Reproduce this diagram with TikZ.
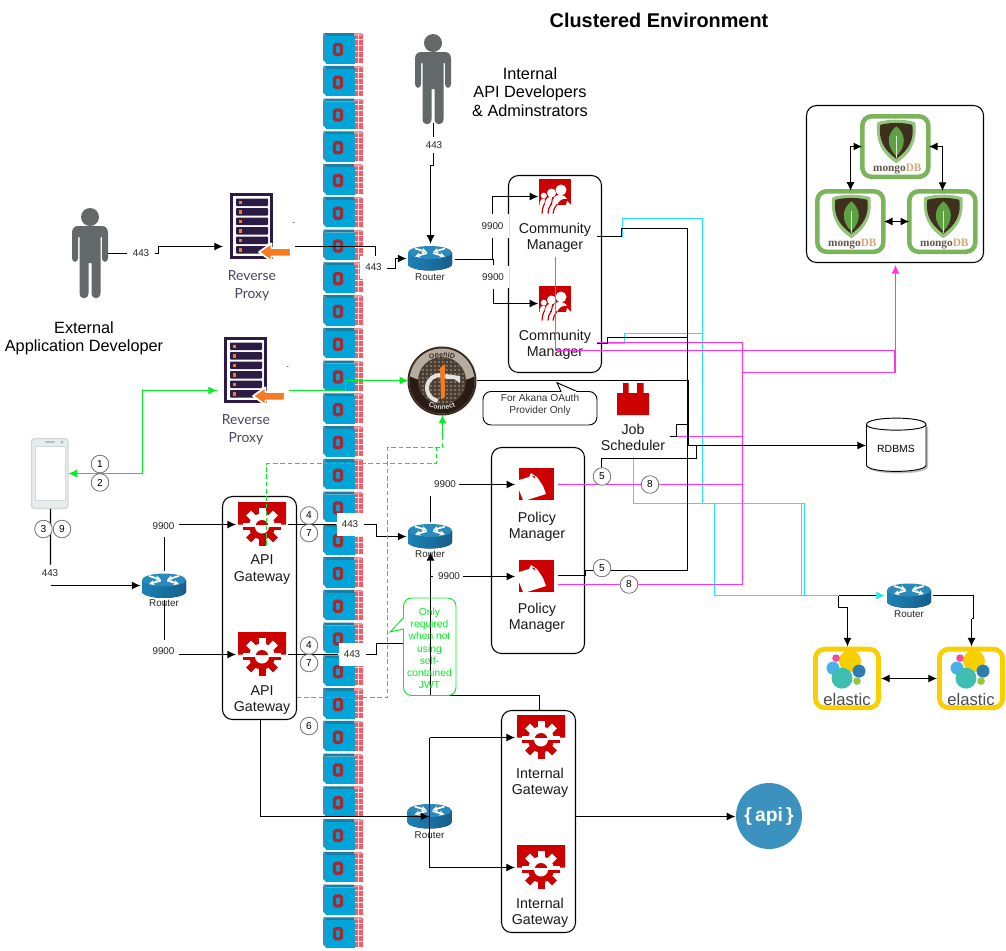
\documentclass[tikz,border=0pt]{standalone}
\usepackage{fontspec}
\setmainfont{Liberation Sans}
\newfontfamily\latofont{Lato}
\newfontfamily\serifont{Liberation Serif}
\usetikzlibrary{arrows.meta,decorations.text,shapes.geometric}
\definecolor{tileblue}{HTML}{00A6DA}
\definecolor{tiledark}{HTML}{1A7FA5}
\definecolor{tileside}{HTML}{3B8FB5}
\definecolor{brick}{HTML}{F55B66}
\definecolor{fwred}{HTML}{A52A2F}
\definecolor{akred}{HTML}{CC0000}
\definecolor{personc}{HTML}{636868}
\definecolor{proxyp}{HTML}{2B1B45}
\definecolor{proxyo}{HTML}{F47B20}
\definecolor{proxyt}{HTML}{4A4560}
\definecolor{routerb}{HTML}{1A6E9E}
\definecolor{routerl}{HTML}{1C82B5}
\definecolor{routerd}{HTML}{155E8C}
\definecolor{routert}{HTML}{2A8ABB}
\definecolor{mgreen}{HTML}{7AB55C}
\definecolor{mdark}{HTML}{3F2F1E}
\definecolor{mleaf}{HTML}{5DA144}
\definecolor{elyel}{HTML}{F8CF00}
\definecolor{elteal}{HTML}{3EBEB0}
\definecolor{elsky}{HTML}{4AB0E8}
\definecolor{elpink}{HTML}{EE5097}
\definecolor{elblue}{HTML}{2D7DAE}
\definecolor{ellime}{HTML}{93C83E}
\definecolor{apiblue}{HTML}{3B92BF}
\definecolor{gline}{HTML}{00EE22}
\definecolor{cline}{HTML}{22E6F5}
\definecolor{mline}{HTML}{FF33EE}
\definecolor{phoneg}{HTML}{CFDADA}
\definecolor{oidrim}{HTML}{3A2A20}
\definecolor{oidtan}{HTML}{B5AC9E}
\definecolor{oiddark}{HTML}{2A1C14}
\definecolor{oidmid}{HTML}{4A3E34}
\definecolor{oiddot}{HTML}{8F8273}
\definecolor{oidwhite}{HTML}{E2E2E0}
\tikzset{
  x=0.75pt,y=-0.75pt,
  ghost/.style={inner sep=0pt,outer sep=0pt,minimum width=#1},
  clusterbox/.style={draw=black,line width=0.8pt,rounded corners=7.5pt,inner sep=0pt,outer sep=0pt},
  conn/.style={draw=black,line width=0.8pt},
  tip/.style={-{Latex[length=6.5pt,width=6pt]}},
  ttip/.style={{Latex[length=6.5pt,width=6pt]}-{Latex[length=6.5pt,width=6pt]}},
  cyanl/.style={draw=cline,line width=0.85pt},
  magl/.style={draw=mline,line width=0.85pt},
  greenl/.style={draw=gline,line width=0.85pt},
  greend/.style={draw=gline,line width=1.1pt,dash pattern=on 3.5pt off 2pt},
  bigtxt/.style={font=\fontsize{10.7pt}{12.2pt}\selectfont,align=center,inner sep=0pt,text=black!90,yshift=-1.5pt},
  devtxt/.style={font=\fontsize{12.2pt}{13.8pt}\selectfont,align=center,inner sep=0pt,yshift=-0.75pt},
  portlab/.style={font=\fontsize{7.4pt}{9pt}\selectfont,fill=white,inner sep=0pt,text=black!85},
  routlab/.style={font=\fontsize{7.4pt}{9pt}\selectfont,inner sep=0pt,text=black!85},
  stepc/.style={circle,draw=black!55,fill=white,line width=0.6pt,minimum size=13.2pt,inner sep=0pt,font=\fontsize{7.6pt}{9pt}\selectfont},
  proxytxt/.style={font=\latofont\fontsize{10.4pt}{13.4pt}\selectfont,align=center,text=proxyt,inner sep=0pt,yshift=-1.5pt},
}
\newcommand{\fwtile}[2]{\begin{scope}[shift={(#1,#2)}]
 \fill[tileside] (0,1)--(3,3)--(3,30)--(0,27)--cycle;
 \fill[tiledark] (0,0)--(31,0)--(33,3)--(3,3)--cycle;
 \fill[tileblue] (2.5,3) rectangle (31.5,30.5);
 \fill[brick] (31.5,1) rectangle (39.5,30);
 \fill[brick!70!white] (31,0) rectangle (39,2.5);
 \draw[white!80!brick,line width=0.35pt] (35.5,1) -- (35.5,30) (31.5,6)--(39.5,6) (31.5,12)--(39.5,12) (31.5,18)--(39.5,18) (31.5,24)--(39.5,24);
 \draw[fwred,line width=2.3pt,rounded corners=1pt] (11.5,11.5) rectangle (18.5,21.5);
\end{scope}}
\newcommand{\personicon}[2]{\begin{scope}[shift={(#1,#2)}]
 \fill[personc] (0,10) circle (9);
 \fill[personc] (-12,19) -- (12,19) .. controls (16,19) and (18,22) .. (18,26) -- (18,51) .. controls (18,56) and (12,56) .. (12,51) -- (12,30) -- (10.5,30) -- (10.5,86) .. controls (10.5,93) and (1.5,93) .. (1.5,86) -- (1.5,56) -- (-1.5,56) -- (-1.5,86) .. controls (-1.5,93) and (-10.5,93) .. (-10.5,86) -- (-10.5,30) -- (-12,30) -- (-12,51) .. controls (-12,56) and (-18,56) .. (-18,51) -- (-18,26) .. controls (-18,22) and (-16,19) .. (-12,19) -- cycle;
\end{scope}}
\newcommand{\routericon}[2]{\begin{scope}[shift={(#1,#2)}]
 \fill[left color=routerl,right color=routerd] (-22,-5.5) -- (-22,6) .. controls (-22,10) and (-10,12.5) .. (0,12.5) .. controls (10,12.5) and (22,10) .. (22,6) -- (22,-5.5) -- cycle;
 \fill[routert] (0,-5.5) ellipse (22 and 6.5);
 \draw[white,line width=1.3pt,-{Stealth[length=4pt,width=4pt]}] (-15,-9.5) -- (-3,-6);
 \draw[white,line width=1.3pt,-{Stealth[length=4pt,width=4pt]}] (15,-9.5) -- (3,-6);
 \draw[white,line width=1.3pt,-{Stealth[length=4pt,width=4pt]}] (3,-5) -- (15,-1.5);
 \draw[white,line width=1.3pt,-{Stealth[length=4pt,width=4pt]}] (-3,-5) -- (-15,-1.5);
\end{scope}}
\newcommand{\gearteeth}[1]{\fill[#1] (24,24.5) circle (13);
 \foreach \a in {0,45,...,315}{\fill[#1,rotate around={\a:(24,24.5)}] (20.5,5.5) rectangle (27.5,14);}}
\newcommand{\gearicon}[2]{\begin{scope}[shift={(#1,#2)}]
 \fill[akred] (0,0) -- (48,0) -- (48,22.5) -- (40,22.5) -- (37,27) -- (11,27) -- (8,22.5) -- (0,22.5) -- cycle;
 \fill[white] (5,22.5) rectangle (43,34);
 \gearteeth{akred}
 \begin{scope}\clip (-2,-2) rectangle (50,22.5); \gearteeth{white} \end{scope}
 \fill[white] (5,22.5) rectangle (43,24.8);
 \fill[white] (24,24.5) circle (7);
 \begin{scope}\clip (15,15) rectangle (33,22.5); \fill[akred] (24,24.5) circle (6.5); \end{scope}
\end{scope}}
\newcommand{\communityicon}[2]{\begin{scope}[shift={(#1,#2)}]
 \fill[akred] (0,0) rectangle (32,26);
 \fill[white] (32,26) -- (28,22) -- (27,26) -- cycle;
 \fill[white] (0.5,26) .. controls (0.5,21) and (3,19) .. (6,20) .. controls (6,23) and (5,25) .. (4.5,26) -- cycle;
 \fill[white] (6,26) .. controls (6,20) and (9,17) .. (13,18) .. controls (13,21) and (12,24) .. (11,26) -- cycle;
 \fill[white] (13,26) .. controls (13,19) and (17,15) .. (22,16) .. controls (24,16) and (26,17) .. (28,20) .. controls (24,19) and (20,21) .. (18,26) -- cycle;
 \draw[akred,line width=0.9pt] (3,34.5) .. controls (3,31) and (4,28) .. (5,25.5);
 \draw[akred,line width=0.9pt] (9,34.5) .. controls (9,31) and (10,28) .. (12,25.5);
 \draw[akred,line width=0.9pt] (14,34.5) .. controls (14.5,31) and (15.5,28) .. (18,25.5);
 \fill[white] (22,11) circle (5.5);
 \fill[white] (12.5,14) circle (4.5);
 \fill[white] (4.8,16.7) circle (3);
\end{scope}}
\newcommand{\policyicon}[2]{\begin{scope}[shift={(#1,#2)}]
 \fill[akred] (0,0) rectangle (35,32);
 \fill[white] (0,12) -- (10,9) -- (12,5) -- (18,9) -- (24,18) -- (27,26) -- (8,32) -- (4,32) -- (0,22) -- cycle;
 \fill[akred] (12.5,7.5) -- (15.5,8) -- (16,10.5) -- cycle;
\end{scope}}
\newcommand{\proxyicon}[2]{\begin{scope}[shift={(#1,#2)}]
 \fill[proxyp] (0,0) rectangle (43,66.5);
 \fill[white] (3,3) rectangle (40,63.5);
 \foreach \r in {0,1,2,3,4,5}{
  \fill[proxyp,rounded corners=0.6pt] (6,6+\r*9.5) rectangle (38,13.5+\r*9.5);
  \fill[proxyo] (9,8+\r*9.5) rectangle (12,11.5+\r*9.5);}
 \filldraw[fill=proxyo,draw=white,line width=1.3pt,line join=round] (29,59.5) -- (41.5,50.8) -- (41.5,55.5) -- (60.7,55.5) -- (60.7,64) -- (41.5,64) -- (41.5,68.5) -- cycle;
\end{scope}}
\newcommand{\mongoicon}[2]{\begin{scope}[shift={(#1,#2)}]
 \draw[mgreen,line width=3.4pt,rounded corners=7pt] (0,0) rectangle (66,60.5);
 \fill[mgreen!80!white] (15,6) .. controls (25,2.5) and (43,2.5) .. (53,6) .. controls (55,24) and (50,36) .. (34,47) .. controls (18,36) and (13,24) .. (15,6) -- cycle;
 \fill[mdark] (18,8.5) .. controls (28,6) and (40,6) .. (50,8.5) .. controls (52,23) and (47,33) .. (34,42.5) .. controls (21,33) and (16,23) .. (18,8.5) -- cycle;
 \fill[mleaf] (34,10) .. controls (44,18) and (44,30) .. (34,40) .. controls (24,30) and (24,18) .. (34,10) -- cycle;
 \draw[white!75!mleaf,line width=0.3pt] (34,20) -- (34,42);
 \node[inner sep=0pt,font=\serifont\bfseries\fontsize{8.5pt}{9pt}\selectfont] at (35,53) {\textcolor{mdark!80!white}{mongo}\textcolor{brown!70!white}{DB}};
\end{scope}}
\newcommand{\elasticicon}[2]{\begin{scope}[shift={(#1,#2)}]
 \draw[elyel,line width=3.6pt,rounded corners=7pt] (0,0) rectangle (63.2,58.6);
 \fill[elyel] (34.6,12) circle (11);
 \fill[elsky] (17.6,19) circle (6.5);
 \fill[elpink] (20.6,9) circle (3.8);
 \fill[elblue] (43.6,22) circle (6.5);
 \fill[elteal] (26.6,29) circle (10.5);
 \fill[ellime] (41.6,32) circle (3.8);
 \node[inner sep=0pt,text=black!70,font=\fontsize{12.5pt}{13pt}\selectfont] at (31.6,50.5) {elastic};
\end{scope}}
\begin{document}
\begin{tikzpicture}
\useasboundingbox (0,0) rectangle (1006,950);
\fill[white] (0,0) rectangle (1006,950);
% firewall column
\foreach \k in {0,...,27}{\pgfmathsetmacro{\ty}{33+32.75*\k}\fwtile{323}{\ty}}
% title and people
\node[inner sep=0pt,font=\bfseries\fontsize{14.9pt}{16pt}\selectfont] (title) at (659,20) {Clustered Environment};
\personicon{90}{207}
\node[ghost=27pt,minimum height=68pt] (extdev) at (90,252) {};
\node[devtxt] (extlab) at (84,337) {External\\Application Developer};
\personicon{433}{33}
\node[ghost=27pt,minimum height=68pt] (intdev) at (433.5,78) {};
\node[devtxt] (intlab) at (530,91) {Internal\\API Developers\\\& Adminstrators};
% cluster boxes
\node[clusterbox,minimum width=69.75pt,minimum height=147.75pt] (cmbox) at (555,274) {};
\node[clusterbox,minimum width=69.75pt,minimum height=154.5pt] (pmbox) at (538,550.5) {};
\node[clusterbox,minimum width=55.5pt,minimum height=167.25pt] (gwbox) at (259.5,608) {};
\node[clusterbox,minimum width=55.5pt,minimum height=166.5pt] (igbox) at (538.5,821.5) {};
\node[clusterbox,fill=white,minimum width=132.75pt,minimum height=117.75pt] (mgbox) at (895,184) {};
% reverse proxies
\proxyicon{230}{192.5}
\node[ghost=54pt,minimum height=50pt] (rp1) at (259,226) {};
\node[proxytxt] (rp1t) at (252,284) {Reverse\\Proxy};
\node[inner sep=0pt,font=\fontsize{7pt}{8pt}\selectfont] (dot1) at (294,223) {.};
\proxyicon{224}{336.5}
\node[ghost=54pt,minimum height=50pt] (rp2) at (253,390.5) {};
\node[proxytxt] (rp2t) at (246,428) {Reverse\\Proxy};
\node[inner sep=0pt,font=\fontsize{7pt}{8pt}\selectfont] (dot2) at (288,367) {.};
% routers
\routericon{430}{258}\node[ghost=36pt,minimum height=22pt] (r1) at (430.5,258.5) {};
\node[routlab] at (430,277) {Router};
\routericon{430}{536}\node[ghost=36pt,minimum height=22pt] (r2) at (430.5,536.5) {};
\node[routlab] at (430,554.5) {Router};
\routericon{164}{585.5}\node[ghost=36pt,minimum height=22pt] (r3) at (164.5,585.5) {};
\node[routlab] at (164,603.5) {Router};
\routericon{429.5}{816}\node[ghost=36pt,minimum height=22pt] (r4) at (429.5,816.5) {};
\node[routlab] at (429.5,835.5) {Router};
\routericon{909}{595.5}\node[ghost=36pt,minimum height=22pt] (r5) at (909,595.5) {};
\node[routlab] at (909,614.5) {Router};
% community manager
\communityicon{539}{179}\node[ghost=25pt,minimum height=26pt] (cm1) at (555,196.5) {};
\node[bigtxt] (cm1t) at (555,236) {Community\\Manager};
\communityicon{539}{286}\node[ghost=25pt,minimum height=26pt] (cm2) at (555,303.5) {};
\node[bigtxt] (cm2t) at (555,343) {Community\\Manager};
\coordinate (cm1out) at (597,236.5);
\coordinate (cm2out) at (597,343.5);
\coordinate (cm1m) at (555.5,257);
% policy manager
\policyicon{519}{468}\node[ghost=32pt,minimum height=24pt] (pm1) at (536.5,484.5) {};
\node[bigtxt] (pm1t) at (537,525) {Policy\\Manager};
\policyicon{519}{560}\node[ghost=32pt,minimum height=24pt] (pm2) at (536.5,576.5) {};
\node[bigtxt] (pm2t) at (537,615.5) {Policy\\Manager};
% gateways
\gearicon{238}{502}\node[ghost=39pt,minimum height=32pt] (gw1) at (262,524.5) {};
\node[bigtxt] (gw1t) at (262,567.5) {API\\Gateway};
\gearicon{238}{632}\node[ghost=39pt,minimum height=32pt] (gw2) at (262,654.5) {};
\node[bigtxt] (gw2t) at (262,698) {API\\Gateway};
\gearicon{517}{715}\node[ghost=39pt,minimum height=32pt] (ig1) at (541,737.5) {};
\node[bigtxt] (ig1t) at (540,781) {Internal\\Gateway};
\gearicon{517}{845}\node[ghost=39pt,minimum height=32pt] (ig2) at (541,867.5) {};
\node[bigtxt] (ig2t) at (540,911) {Internal\\Gateway};
% job scheduler
\fill[akred] (617,415) -- (617,393) -- (623,393) -- (623,383) -- (628.5,383) -- (628.5,393) -- (637,393) -- (637,383) -- (643.5,383) -- (643.5,393) -- (649,393) -- (649,415) -- cycle;
\node[ghost=24pt,minimum height=25pt] (js) at (633,399) {};
\node[bigtxt] (jst) at (633,435.5) {Job\\Scheduler};
% callout
\draw[black,line width=0.7pt,rounded corners=6pt,fill=white] (483,391.5) rectangle (597,425);
\draw[black,line width=0.7pt,fill=white] (561,391.5) -- (557,382.7) -- (577,391.5);
\fill[white] (561.5,391) rectangle (576,392.5);
\node[inner sep=0pt,align=center,font=\fontsize{7.6pt}{9.1pt}\selectfont,text=black!80] (note1) at (540,405) {For Akana OAuth\\Provider Only};
% OpenID
\fill[oidrim] (442,381) circle (34.5);
\begin{scope}
 \clip (442,381) circle (32.5);
 \fill[oidtan] (405,345) rectangle (480,420);
 \fill[oiddark] (405,373) .. controls (420,386) and (464,386) .. (480,373) -- (480,420) -- (405,420) -- cycle;
\end{scope}
\fill[oidmid] (442,381) circle (24);
\begin{scope}
 \clip (442,381) circle (23);
 \foreach \i in {0,...,11}{\foreach \j in {0,...,11}{\fill[oiddot] (419+4*\i,358+4*\j) circle (1.05);}}
\end{scope}
\draw[oidwhite,line width=3pt] (446.5,376.7) arc[start angle=-60,end angle=-260,radius=13];
\fill[oidwhite] (446,374) -- (460,376) -- (460,383) -- (454,379) -- (446,379) -- cycle;
\fill[proxyo] (440,368) -- (445,364) -- (445,397) -- (441,399) -- cycle;
\node[circle,inner sep=0pt,minimum size=51pt] (oid) at (442.5,380.5) {};
\path[decorate,decoration={text along path,text align=center,text={|\fontsize{5.2pt}{6pt}\selectfont\bfseries\color{oidrim}|OpenID}}] (420,369) .. controls (428,353) and (456,353) .. (464,369);
\path[decorate,decoration={text along path,text align=center,text={|\fontsize{5.2pt}{6pt}\selectfont\bfseries\color{oidwhite}|Connect}}] (415,396) .. controls (428,414) and (456,414) .. (469,396);
% RDBMS
\fill[black!25] (868.5,427) -- (868.5,467) .. controls (868.5,475.5) and (928,475.5) .. (928,467) -- (928,427) -- cycle;
\fill[white,draw=black,line width=0.7pt] (866.5,424.5) -- (866.5,465) .. controls (866.5,473.5) and (926,473.5) .. (926,465) -- (926,424.5) .. controls (926,416) and (866.5,416) .. (866.5,424.5) -- cycle;
\draw[black,line width=0.7pt] (866.5,424.5) .. controls (866.5,432) and (926,432) .. (926,424.5);
\node[inner sep=0pt,font=\fontsize{7.8pt}{9pt}\selectfont] (db) at (896,449) {RDBMS};
\node[ghost=45pt,minimum height=39pt] (rdb) at (896,445.5) {};
% api circle
\fill[apiblue] (769,816) circle (33);
\node[circle,inner sep=0pt,minimum size=50pt,text=white,font=\bfseries\fontsize{14.5pt}{16pt}\selectfont] (api) at (769,816.5) {\{\,api\,\}};
% mongo and elastic
\mongoicon{862.3}{116.3}\node[ghost=50pt,minimum height=46pt] (mg1) at (895.5,146.5) {};
\mongoicon{817.3}{191.3}\node[ghost=50pt,minimum height=46pt] (mg2) at (850.5,221.5) {};
\mongoicon{909.3}{191.3}\node[ghost=50pt,minimum height=46pt] (mg3) at (942.5,221.5) {};
\elasticicon{815.4}{649.1}\node[ghost=51pt,minimum height=48pt] (el1) at (847,678.5) {};
\elasticicon{939.4}{649.1}\node[ghost=51pt,minimum height=48pt] (el2) at (971,678.5) {};
% phone
\filldraw[fill=phoneg!50!white,draw=phoneg,line width=1.1pt,rounded corners=2.5pt] (31.5,438.5) rectangle (68,508.5);
\filldraw[fill=white,draw=phoneg,line width=0.7pt] (35,446) rectangle (65,500);
\fill[black!25] (45,441) rectangle (55,443);
\fill[black!30] (62,442) circle (1.5);
\node[ghost=28pt,minimum height=53pt] (phone) at (49.7,473.5) {};
% port labels
\node[portlab,minimum width=20pt,minimum height=12pt] (p443a) at (141,253.5) {443};
\node[portlab,minimum width=20pt,minimum height=17pt] (p443b) at (373.5,267.5) {443};
\node[portlab,minimum width=20pt,minimum height=12pt] (p443c) at (434,145) {443};
\node[portlab,minimum width=24pt,minimum height=18pt] (p99a) at (492.5,226) {9900};
\node[portlab,minimum width=24pt,minimum height=17pt] (p99b) at (493,277) {9900};
\node[portlab,minimum width=20pt,minimum height=17pt] (p443d) at (350,524.5) {443};
\node[portlab,minimum width=20pt,minimum height=17pt] (p443e) at (352,654.5) {443};
\node[portlab,minimum width=20pt,minimum height=12pt] (p443f) at (50,573) {443};
\node[portlab,minimum width=20pt,minimum height=16pt] (p99c) at (163.5,526) {9900};
\node[portlab,minimum width=20pt,minimum height=16pt] (p99d) at (163.5,651) {9900};
\node[portlab,minimum width=21pt,minimum height=14pt] (p99e) at (445,484.5) {9900};
\node[portlab,minimum width=21pt,minimum height=14pt] (p99f) at (449,576.5) {9900};
% cyan connectors
\draw[cyanl] (cm1out) -- (622.5,236.5) -- (622.5,218.5) -- (702.5,218.5) -- (702.5,503.5) -- (633.5,503.5) -- (633.5,457);
\draw[cyanl] (cm2out) -- (624.5,343.5) -- (624.5,333.5) -- (702.5,333.5);
\draw[cyanl] (702.5,503.5) -- (804.5,503.5) -- (804.5,595.5);
\draw[cyanl] (714.5,503.5) -- (714.5,595.5) -- (838,595.5);
\draw[cyanl] (801.5,503.5) -- (801.5,595.5);
% magenta connectors
\draw[magl] (cm1m) -- (555.5,350.5) -- (895.5,350.5);
\draw[magl,tip] (895.5,372.5) -- (895.5,265);
\draw[magl] (742.5,372.5) -- (895.5,372.5);
\draw[magl] (894.5,372.5) -- (894.5,350.5);
\draw[magl] (cm2out) ++(0,-1) -- (742.5,342.5) -- (742.5,584.5) -- (pm2.east |- 0,584.5);
\draw[magl] (677,436.5) -- (742.5,436.5);
\draw[magl] (pm1.east) -- (742.5,484.5);
% black connectors
\draw[conn] (extdev.east |- p443a) -- (p443a);
\draw[conn,tip] (p443a.east) -- (158.5,253.5) -- (158.5,246.5) -- (rp1.west |- 0,246.5);
\draw[conn] (rp1.east |- 0,246.5) -- (375.5,246.5) -- (p443b.north -| 375.5,0);
\draw[conn,tip] (p443b.east) ++(0,1) -- (395.5,268.5) -- (395.5,258.5) -- (r1.west);
\draw[conn] (intdev.south) -- (p443c.north -| intdev.south);
\draw[conn,tip] (p443c.south -| 433.5,0) -- (433.5,165.5) -- (430.5,165.5) -- (r1.north);
\draw[conn,tip] (r1.east |- 0,259.5) -- (492.5,259.5) -- (p99a.south -| 492.5,0) (p99a.north -| 492.5,0) -- (492.5,196.5) -- (cm1.west);
\draw[conn,tip] (492.5,259.5) -- (493.5,259.5) -- (p99b.north -| 493.5,0) (p99b.south -| 493.5,0) -- (493.5,303.5) -- (cm2.west);
\draw[conn] (cm1out) -- (621.5,236.5) -- (621.5,228.5) -- (687.5,228.5) -- (687.5,570.5) -- (585.5,570.5) -- (585.5,575.5) -- (pm2.east |- 0,575.5);
\draw[conn] (cm2out) -- (607.5,343.5) -- (607.5,337.5) -- (687.5,337.5);
\draw[conn,tip] (oid.east) -- (688.5,380.5) -- (688.5,445.5) -- (rdb.west);
\draw[conn] (670,436.5) -- (676.5,436.5) -- (676.5,424.5) -- (688.5,424.5);
\draw[conn] (601.5,470) -- (601.5,458.5) -- (696.5,458.5) -- (696.5,445.5);
% routers and gateways
\draw[conn] (phone.south) ++(0.8,0) -- (p443f.north -| 50.5,0);
\draw[conn,tip] (50.5,585.5) -- (r3.west);
\draw[conn] (r3.north) -- (p99c.south -| 164.5,0) (r3.south) -- (p99d.north -| 164.5,0);
\draw[conn,tip] (p99c.east |- gw1.west) ++(2,0) -- (gw1.west);
\draw[conn,tip] (p99d.east |- gw2.west) ++(2,0) -- (gw2.west);
\draw[conn] (gw1.east) -- (p443d.west);
\draw[conn,tip] (p443d.east) -- (376.5,524.5) -- (376.5,536.5) -- (r2.west);
\draw[conn] (gw2.east) -- (p443e.west);
\draw[conn] (p443e.east) -- (376.5,654.5) -- (376.5,643.5) -- (403.5,643.5);
\draw[conn] (r2.north) -- (430.5,496);
\draw[conn,tip] (p99e.east) -- (pm1.west);
\draw[conn,tip] (p99f.east) -- (pm2.west);
\draw[conn] (430.5,576.5) -- (432.5,576.5);
\draw[conn,tip] (igbox.north -| 539.5,0) -- (539.5,695.5) -- (430.5,695.5) -- (430.5,552);
\draw[conn,tip] (260.5,719.5) -- (260.5,816.5) -- (r4.center);
\draw[conn,tip] (429.5,737.5) -- (ig1.west);
\draw[conn,tip] (429.5,867.5) -- (ig2.west);
\draw[conn] (429.5,737.5) -- (429.5,867.5);
\draw[conn,tip] (igbox.east |- api.west) -- (api.west);
% storage connectors
\draw[conn,ttip] (mg1.west) -- (850.5,146.5) -- (mg2.north);
\draw[conn,ttip] (mg1.east) -- (942.5,146.5) -- (942.5,191);
\draw[conn,ttip] (mg2.east) -- (mg3.west);
\draw[conn,ttip] (el1.east) -- (el2.west);
\draw[conn] (838.5,595.5) -- (838.5,607.5) -- (847.5,607.5);
\draw[conn] (838.5,595.5) -- (878,595.5);
\draw[cyanl,-{Latex[length=6.5pt,width=6pt]}] (876,595.5) -- (r5.west);
\draw[conn,tip] (847.5,607.5) -- (847.5,646.5);
\draw[conn] (r5.east) -- (973.5,595.5) -- (973.5,618.5) -- (971.5,618.5);
\draw[conn,tip] (971.5,618.5) -- (971.5,646.5);
% green connectors
\draw[greenl,tip] (rp2.west) -- (142.5,390.5) -- (142.5,473.5) -- (phone.east);
\draw[greenl,tip] (142.5,390.5) -- (rp2.west);
\draw[greenl,tip] (rp2.east) -- (345.5,390.5) -- (345.5,380.5) -- (oid.west);
\draw[greend] (266.5,545) -- (266.5,463.5) -- (436.5,463.5) -- (436.5,447.5);
\draw[greend] (gwbox.east |- 0,697.5) -- (387.5,697.5) -- (387.5,447.5) -- (442.5,447.5) -- (442.5,438);
\draw[greenl,tip] (442.5,438) -- (oid.south -| 442.5,0);
% note
\draw[gline,line width=0.7pt,rounded corners=6pt] (403.5,598) rectangle (456,695.5);
\draw[gline,line width=0.7pt,fill=white] (403.5,618) -- (390,632) -- (403.5,629);
\fill[white] (403.3,619) rectangle (404.5,628);
\node[inner sep=0pt,align=center,text=gline,font=\fontsize{7.7pt}{9.15pt}\selectfont] (note2) at (429.5,648.5) {Only\\required\\when not\\using\\self-\\contained\\JWT};
% step circles
\node[stepc] (c1) at (100,464) {1};
\node[stepc] (c2) at (100,482.5) {2};
\node[stepc] (c3) at (43.5,529) {3};
\node[stepc] (c9) at (62,529) {9};
\node[stepc] (c4a) at (309,515.5) {4};
\node[stepc] (c7a) at (309,533) {7};
\node[stepc] (c4b) at (309,645.5) {4};
\node[stepc] (c7b) at (309,663) {7};
\node[stepc] (c6) at (309,726) {6};
\node[stepc] (c5a) at (602,476.5) {5};
\node[stepc] (c5b) at (602,568) {5};
\node[stepc] (c8a) at (650,484.5) {8};
\node[stepc] (c8b) at (629,584.5) {8};
\end{tikzpicture}
\end{document}
